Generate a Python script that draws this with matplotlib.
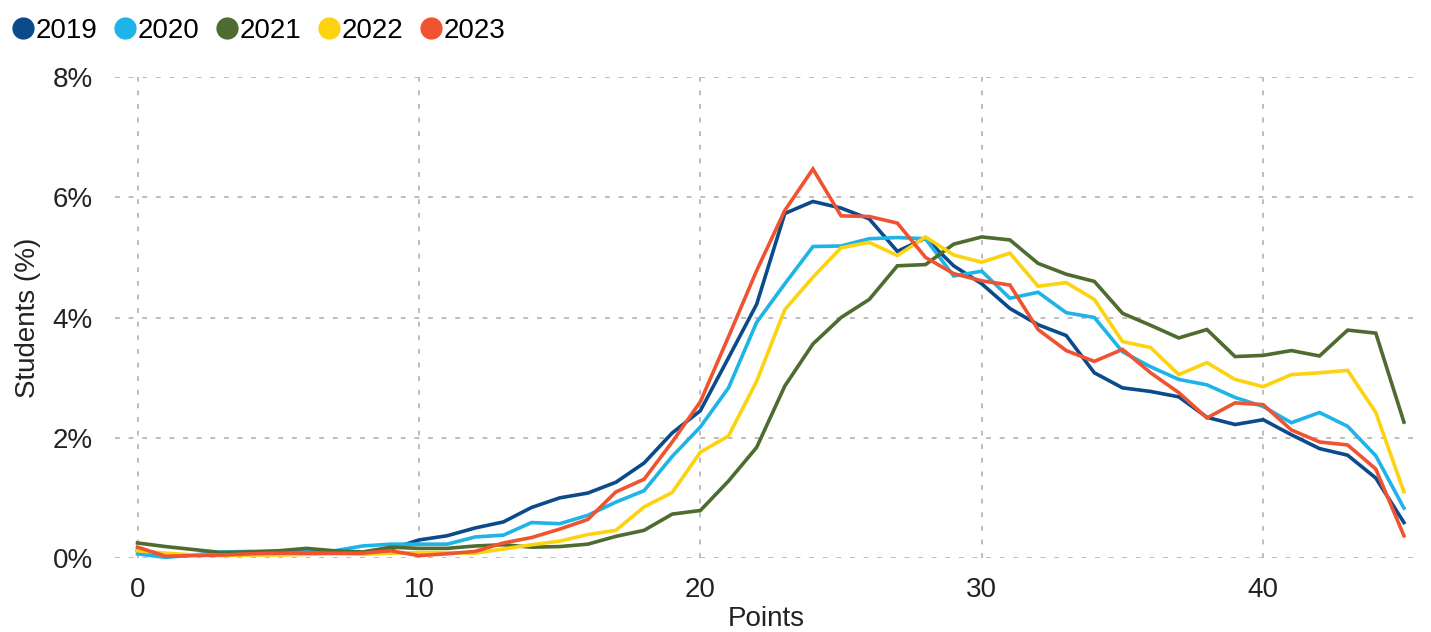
import matplotlib
matplotlib.use("Agg")
import matplotlib.pyplot as plt
from matplotlib.lines import Line2D
from matplotlib.ticker import FuncFormatter

plt.rcParams['font.family'] = ['Liberation Sans', 'DejaVu Sans']

points = list(range(46))
years = ["2019", "2020", "2021", "2022", "2023"]
colors = ["#0B4A8B", "#1EB4E8", "#4E6B30", "#FDD20F", "#F05331"]

s2019 = [0.13,0.05,0.05,0.05,0.07,0.08,0.08,0.08,0.08,0.15,
         0.3,0.37,0.5,0.6,0.84,1.0,1.08,1.26,1.58,2.08,
         2.45,3.33,4.22,5.73,5.93,5.82,5.64,5.1,5.32,4.86,
         4.56,4.15,3.88,3.7,3.08,2.83,2.77,2.68,2.34,2.22,
         2.3,2.05,1.82,1.71,1.33,0.59]
s2020 = [0.07,0.01,0.05,0.1,0.11,0.11,0.11,0.12,0.2,0.23,
         0.23,0.23,0.35,0.38,0.59,0.57,0.71,0.93,1.12,1.69,
         2.18,2.83,3.92,4.56,5.18,5.19,5.31,5.33,5.31,4.69,
         4.77,4.32,4.42,4.08,4.0,3.43,3.18,2.97,2.88,2.67,
         2.52,2.25,2.42,2.19,1.7,0.83]
s2021 = [0.25,0.19,0.14,0.09,0.1,0.12,0.16,0.12,0.1,0.18,
         0.16,0.16,0.2,0.22,0.18,0.19,0.23,0.36,0.46,0.73,
         0.79,1.28,1.84,2.86,3.56,4.0,4.3,4.86,4.88,5.22,
         5.34,5.29,4.9,4.72,4.6,4.07,3.87,3.66,3.8,3.35,
         3.37,3.45,3.36,3.79,3.74,2.26]
s2022 = [0.12,0.08,0.05,0.04,0.05,0.05,0.06,0.07,0.06,0.08,
         0.09,0.09,0.08,0.15,0.22,0.28,0.39,0.46,0.85,1.09,
         1.76,2.03,2.94,4.13,4.67,5.16,5.25,5.03,5.34,5.04,
         4.92,5.07,4.52,4.58,4.3,3.6,3.5,3.05,3.25,2.97,
         2.85,3.05,3.08,3.12,2.42,1.1]
s2023 = [0.18,0.03,0.04,0.05,0.07,0.08,0.08,0.08,0.08,0.12,
         0.04,0.07,0.11,0.25,0.34,0.48,0.64,1.1,1.31,1.93,
         2.6,3.68,4.78,5.78,6.47,5.69,5.68,5.57,5.0,4.73,
         4.61,4.54,3.8,3.45,3.27,3.47,3.08,2.75,2.33,2.58,
         2.55,2.13,1.93,1.88,1.48,0.37]
series = [s2019, s2020, s2021, s2022, s2023]

x_ticks = [0, 10, 20, 30, 40]
y_ticks = [0, 2, 4, 6, 8]

fig = plt.figure(figsize=(14.31, 6.32), dpi=100)
ax = fig.add_axes([115/1431, 1 - 558/632, (1418-115)/1431, (558-77)/632])

for vals, c, lab in zip(series, colors, years):
    ax.plot(points, vals, color=c, lw=2.6, label=lab, clip_on=False,
            solid_joinstyle='miter')

ax.set_xlim(-0.8, 45.5)
ax.set_ylim(0, 8)
ax.set_xticks(x_ticks)
ax.set_yticks(y_ticks)
ax.yaxis.set_major_formatter(FuncFormatter(lambda v, p: f"{int(v)}%"))
ax.tick_params(length=0, labelsize=20, colors="#222222")
ax.tick_params(axis='x', pad=14)
ax.tick_params(axis='y', pad=16)
for sp in ax.spines.values():
    sp.set_visible(False)
ax.grid(True, color="#BDBDBD", lw=1.4, linestyle=(0, (2.5, 4.5)))
ax.set_axisbelow(True)

ax.set_xlabel("Points", fontsize=20, color="#222222", labelpad=2)
ax.set_ylabel("Students (%)", fontsize=20, color="#222222", labelpad=8)

handles = [Line2D([], [], marker='o', ls='none', color=c, markersize=15) for c in colors]
fig.legend(handles, years, loc='upper left', bbox_to_anchor=(-0.009, 1.003), ncol=5,
           frameon=False, fontsize=20, handletextpad=-0.15, columnspacing=0.4,
           handlelength=1.2, borderaxespad=0.3)

fig.savefig("out.png", dpi=100)
